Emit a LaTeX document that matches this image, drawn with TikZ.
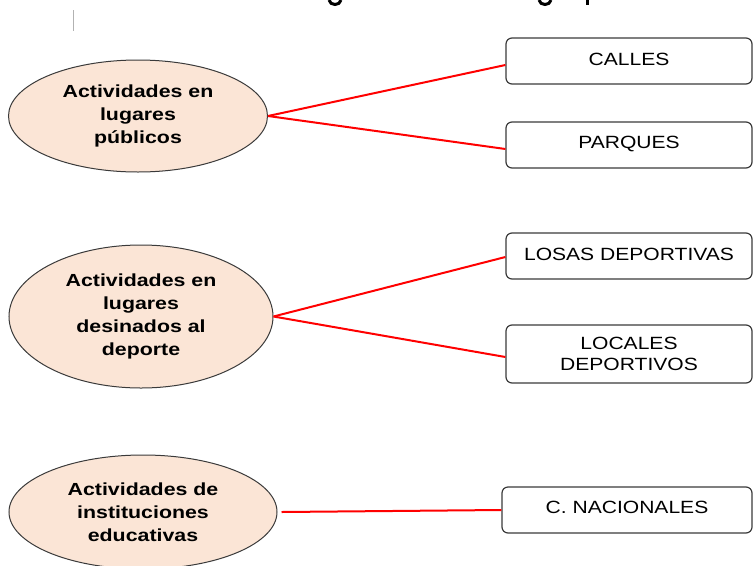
\documentclass[tikz,border=0pt]{standalone}
\usepackage{fontspec}
\usetikzlibrary{shapes.geometric}
\newfontfamily\ellfont[FakeStretch=1.22]{Liberation Sans Bold}
\newfontfamily\boxfont[FakeStretch=1.19]{Liberation Sans}
\definecolor{peach}{HTML}{FBE5D6}
\definecolor{edge}{HTML}{3A3A3A}
\tikzset{
  ell/.style={ellipse, draw=edge, line width=1pt, fill=peach, inner sep=0pt, align=center,
    font=\ellfont\fontsize{17.5pt}{23pt}\selectfont},
  rbox/.style={draw=edge, line width=1.2pt, rounded corners=6pt, inner sep=0pt, align=center,
    minimum width=246pt, font=\boxfont\fontsize{17.7pt}{21pt}\selectfont},
  link/.style={red, line width=2pt},
  frag/.style={black, line width=3pt}
}
\begin{document}
\begin{tikzpicture}[x=1pt,y=-1pt]
\useasboundingbox (0,0) rectangle (754,565);
% cut-off title fragments
\draw[frag] (329,0) .. controls (330,6) and (340,6) .. (341,0);
\draw[frag] (539,0) .. controls (540,6) and (550,6) .. (551,0);
\draw[frag] (587,0) -- (587,5);
\draw[gray!60, line width=0.8pt] (73.5,10) -- (73.5,31);
% ellipses
\node[ell, minimum width=259pt, minimum height=112pt] (e1) at (138,116) {Actividades en\\lugares\\públicos};
\node[ell, minimum width=264pt, minimum height=143pt] (e2) at (141,316.5) {Actividades en\\lugares\\desinados al\\deporte};
\node[ell, minimum width=268pt, minimum height=114pt] (e3) at (143,512) {Actividades de\\instituciones\\educativas};
% boxes
\node[rbox, minimum height=46pt] (b1) at (629,61) {\raisebox{4pt}{CALLES}};
\node[rbox, minimum height=46pt] (b2) at (629,145) {\raisebox{5pt}{PARQUES}};
\node[rbox, minimum height=46pt] (b3) at (629,256) {\raisebox{4pt}{LOSAS DEPORTIVAS}};
\node[rbox, minimum height=58pt] (b4) at (629,354) {LOCALES\\DEPORTIVOS};
\node[rbox, minimum height=46pt, minimum width=250pt] (b5) at (627,510) {\raisebox{5pt}{C. NACIONALES}};
% links
\draw[link] (e1.east) -- ([yshift=-4pt]b1.west);
\draw[link] (e1.east) -- ([yshift=-4pt]b2.west);
\draw[link] (e2.east) -- ([yshift=-1pt]b3.west);
\draw[link] (e2.east) -- ([yshift=-3pt]b4.west);
\draw[link] ([xshift=4pt]e3.east) -- (b5.west);
\end{tikzpicture}
\end{document}
